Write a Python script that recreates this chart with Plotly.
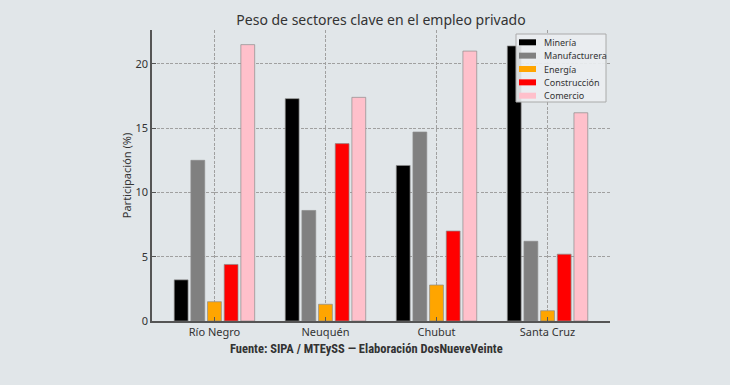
import plotly.graph_objects as go

regions = ["Río Negro", "Neuquén", "Chubut", "Santa Cruz"]
sectors = ["Minería", "Manufacturera", "Energía", "Construcción", "Comercio"]
colors = ["#000000", "#808080", "#FFA500", "#FF0000", "#FFC0CB"]
mineria = [3.2, 17.3, 12.1, 21.4]
manufacturera = [12.5, 8.6, 14.7, 6.2]
energia = [1.5, 1.3, 2.8, 0.8]
construccion = [4.4, 13.8, 7.0, 5.2]
comercio = [21.5, 17.4, 21.0, 16.2]
series = [mineria, manufacturera, energia, construccion, comercio]
y_ticks = [0, 5, 10, 15, 20]

BG = "#e1e6e9"
W, H = 730, 385
L, R, T, B = 152, 120, 30, 64
PW, PH = W - L - R, H - T - B

def px(x):
    return (x - L) / PW

def py(y):
    return (H - B - y) / PH

fig = go.Figure()
for name, vals, col in zip(sectors, series, colors):
    fig.add_trace(go.Bar(
        x=list(range(len(regions))), y=vals, name=name, showlegend=False,
        marker=dict(color=col, line=dict(color="rgba(140,140,140,0.7)", width=1)),
    ))

# custom legend (matplotlib-like compact box)
shapes = [dict(type="rect", xref="paper", yref="paper", x0=px(516), x1=px(606),
               y0=py(102), y1=py(34), fillcolor="rgba(234,238,240,0.92)",
               line=dict(color="#aaaaaa", width=1), layer="above")]
annotations = []
for i, (name, col) in enumerate(zip(sectors, colors)):
    yc = 42.3 + i * 13.35
    shapes.append(dict(type="rect", xref="paper", yref="paper", x0=px(519), x1=px(536),
                       y0=py(yc + 3), y1=py(yc - 3), fillcolor=col,
                       line=dict(width=0), layer="above"))
    annotations.append(dict(text=name, xref="paper", yref="paper", x=px(542), y=py(yc),
                            xanchor="left", yanchor="middle", showarrow=False,
                            font=dict(size=9, color="#333333")))

annotations.append(dict(text="<b>Fuente: SIPA / MTEySS — Elaboración DosNueveVeinte</b>",
                        xref="paper", yref="paper", x=px(366), y=py(348), xanchor="center",
                        yanchor="middle", showarrow=False,
                        font=dict(size=12.5, color="#333333",
                                  family="Roboto Condensed, Roboto, Noto Sans, sans-serif")))

fig.update_layout(
    width=W, height=H,
    paper_bgcolor=BG, plot_bgcolor=BG,
    margin=dict(l=L, r=R, t=T, b=B),
    barmode="group", bargap=0.25, bargroupgap=0.17,
    font=dict(family="Noto Sans, DejaVu Sans, sans-serif", color="#333333", size=11),
    title=dict(text="Peso de sectores clave en el empleo privado", x=381 / W, xanchor="center",
               y=1 - 20 / H, yanchor="middle", font=dict(size=14, color="#333333")),
    showlegend=False,
    xaxis=dict(range=[-0.5625, 3.5625], tickmode="array", tickvals=list(range(len(regions))),
               ticktext=regions, showgrid=True, gridcolor="#a0a0a0", griddash="3px,1.5px", gridwidth=1,
               showline=True, linecolor="#555555", linewidth=1.5, ticks="inside", ticklen=4,
               tickcolor="#555555", zeroline=False, tickfont=dict(size=11)),
    yaxis=dict(range=[0, 22.64], tickmode="array", tickvals=y_ticks, showgrid=True,
               gridcolor="#a0a0a0", griddash="3px,1.5px", gridwidth=1, showline=True,
               linecolor="#555555", linewidth=1.5, ticks="inside", ticklen=4,
               tickcolor="#555555", zeroline=False,
               title=dict(text="Participación (%)", font=dict(size=11), standoff=2),
               tickfont=dict(size=11)),
    shapes=shapes,
    annotations=annotations,
)
fig.write_html("out.html", config={"displayModeBar": False},
               post_script="document.body.style.margin='0';document.body.style.background='%s';" % BG)
